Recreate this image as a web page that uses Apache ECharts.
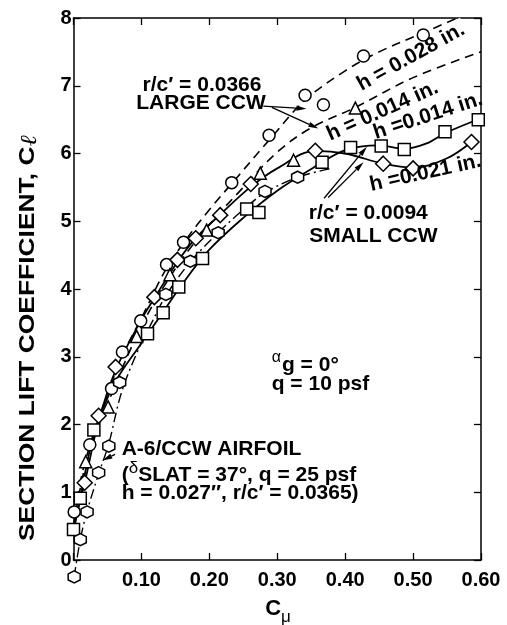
<!DOCTYPE html>
<html><head><meta charset="utf-8">
<script src="https://cdn.jsdelivr.net/npm/echarts@6/dist/echarts.min.js"></script>
<style>html,body{margin:0;padding:0;background:#fff}#c{width:507px;height:625px}</style>
</head><body><div id="c"></div>
<script>
// ---------- data ----------
const xTickLabels = ['', '0.10', '0.20', '0.30', '0.40', '0.50', '0.60'];
const yTickLabels = ['0', '1', '2', '3', '4', '5', '6', '7', '8'];

// LARGE CCW, r/c' = 0.0366, h = 0.028 in. (circles, dashed)
const largeH028Pts = [[0.001,0.71],[0.024,1.70],[0.056,2.53],[0.072,3.07],[0.099,3.53],[0.137,4.36],[0.162,4.69],[0.233,5.57],[0.288,6.27],[0.341,6.86],[0.368,6.72],[0.427,7.44],[0.515,7.75]];
const largeH028Curve = [[0,0.45],[0.01,1.15],[0.025,1.72],[0.05,2.45],[0.075,3.08],[0.1,3.57],[0.135,4.27],[0.165,4.72],[0.2,5.17],[0.235,5.58],[0.29,6.22],[0.34,6.78],[0.4,7.22],[0.45,7.5],[0.51,7.76],[0.565,8.0]];

// LARGE CCW, h = 0.014 in. (triangles, dashed)
const largeH014Pts = [[0.018,1.45],[0.051,2.26],[0.093,3.30],[0.142,4.21],[0.196,4.87],[0.275,5.71],[0.324,5.90],[0.415,6.67]];
const largeH014Curve = [[0,0.5],[0.02,1.5],[0.05,2.3],[0.1,3.45],[0.15,4.3],[0.2,4.95],[0.25,5.5],[0.3,6.02],[0.35,6.38],[0.415,6.68],[0.5,7.12],[0.6,7.5]];

// SMALL CCW, r/c' = 0.0094, h = 0.014 in. (squares, solid)
const smallH014Pts = [[0,0.45],[0.010,0.91],[0.030,1.92],[0.109,3.34],[0.132,3.65],[0.155,4.03],[0.190,4.45],[0.255,5.18],[0.273,5.13],[0.366,5.87],[0.408,6.09],[0.453,6.11],[0.487,6.06],[0.547,6.32],[0.596,6.50]];
const smallH014Curve = [[0,0.4],[0.01,0.92],[0.03,1.85],[0.06,2.6],[0.1,3.2],[0.13,3.63],[0.16,4.07],[0.2,4.58],[0.25,5.05],[0.3,5.45],[0.35,5.77],[0.4,6.05],[0.45,6.12],[0.487,6.07],[0.52,6.15],[0.547,6.3],[0.6,6.52]];

// SMALL CCW, h = 0.021 in. (diamonds, solid)
const smallH021Pts = [[0.0165,1.14],[0.037,2.13],[0.062,2.85],[0.119,3.88],[0.153,4.43],[0.180,4.75],[0.216,5.09],[0.261,5.55],[0.356,6.04],[0.456,5.85],[0.500,5.78],[0.586,6.17]];
const smallH021Curve = [[0,0.5],[0.0165,1.14],[0.037,2.05],[0.062,2.8],[0.1,3.55],[0.12,3.88],[0.153,4.4],[0.18,4.75],[0.216,5.1],[0.26,5.5],[0.3,5.78],[0.356,6.04],[0.4,6.0],[0.456,5.85],[0.5,5.79],[0.55,5.93],[0.586,6.17]];

// A-6/CCW AIRFOIL (hexagons, dash-dot)
const a6Pts = [[0.001,-0.25],[0.010,0.30],[0.020,0.71],[0.037,1.29],[0.052,1.68],[0.068,2.62],[0.136,3.92],[0.172,4.41],[0.213,4.83],[0.282,5.44],[0.330,5.65]];
const a6Curve = [[0.001,-0.25],[0.01,0.3],[0.02,0.72],[0.037,1.27],[0.052,1.72],[0.07,2.45],[0.093,3.05],[0.115,3.5],[0.136,3.9],[0.172,4.4],[0.213,4.83],[0.25,5.17],[0.282,5.42],[0.33,5.65],[0.38,5.78]];

// ---------- chart ----------
const FONT = '"Liberation Sans", Arial, Helvetica, sans-serif';
const chart = echarts.init(document.getElementById('c'), null, {renderer: 'canvas'});
const hexPath = 'path://M0,-10 L8.66,-5 L8.66,5 L0,10 L-8.66,5 L-8.66,-5 Z';

function curve(data, type, width) {
  return {type: 'line', data: data, smooth: 0.35, symbol: 'none', clip: false, silent: true,
    lineStyle: {color: '#000', width: width, type: type}, z: 2};
}
function pts(data, symbol, size) {
  return {type: 'scatter', data: data, symbol: symbol, symbolSize: size, clip: false, silent: true,
    itemStyle: {color: '#fff', borderColor: '#000', borderWidth: 1.5, opacity: 1}, z: 5};
}
const axisBase = {
  type: 'value', axisLine: {show: true, onZero: false, lineStyle: {color: '#000', width: 1.5}},
  axisTick: {show: true, inside: true, length: 7, lineStyle: {color: '#000', width: 1.3}},
  splitLine: {show: false}
};
const labelStyle = {color: '#000', fontSize: 20, fontWeight: 'bold', fontFamily: FONT};

chart.setOption({
  animation: false,
  backgroundColor: '#fff',
  grid: {left: 73.5, right: 26, top: 18, bottom: 65},
  xAxis: [
    Object.assign({}, axisBase, {position: 'bottom', min: 0, max: 0.6, interval: 0.1,
      axisLabel: Object.assign({margin: 10, formatter: (v, i) => xTickLabels[Math.round(v * 10)]}, labelStyle)}),
    Object.assign({}, axisBase, {position: 'top', min: 0, max: 0.6, interval: 0.1, axisLabel: {show: false}})
  ],
  yAxis: [
    Object.assign({}, axisBase, {position: 'left', min: 0, max: 8, interval: 1,
      axisLabel: Object.assign({margin: 2, formatter: (v) => yTickLabels[Math.round(v)]}, labelStyle)}),
    Object.assign({}, axisBase, {position: 'right', min: 0, max: 8, interval: 1, axisLabel: {show: false}})
  ],
  series: [
    curve(largeH028Curve, [9, 6], 1.6),
    curve(largeH014Curve, [9, 6], 1.6),
    curve(smallH014Curve, 'solid', 1.8),
    curve(smallH021Curve, 'solid', 1.8),
    curve(a6Curve, [10, 4, 2, 4], 1.4),
    pts(largeH028Pts, 'circle', 12),
    pts(largeH014Pts, 'triangle', 12),
    pts(smallH014Pts, 'rect', 12),
    pts(smallH021Pts, 'diamond', 15),
    pts(a6Pts, hexPath, 12)
  ]
});

// ---------- annotations ----------
const toPx = (p) => chart.convertToPixel({xAxisIndex: 0, yAxisIndex: 0}, p);
function arrow(a, b) {
  const p0 = toPx(a), p1 = toPx(b);
  const ang = Math.atan2(p1[1] - p0[1], p1[0] - p0[0]);
  const L = 10, W = 2.6;
  const bx = p1[0] - L * Math.cos(ang), by = p1[1] - L * Math.sin(ang);
  return [
    {type: 'line', shape: {x1: p0[0], y1: p0[1], x2: bx, y2: by}, style: {stroke: '#000', lineWidth: 1.3}, z: 10},
    {type: 'polygon', shape: {points: [[p1[0], p1[1]], [bx - W * Math.sin(ang), by + W * Math.cos(ang)], [bx + W * Math.sin(ang), by - W * Math.cos(ang)]]},
      style: {fill: '#000'}, z: 10}
  ];
}
function txt(x, y, text, opts) {
  opts = opts || {};
  return {type: 'text', x: x, y: y, rotation: opts.rot || 0, z: opts.z || 20,
    style: Object.assign({text: text, fill: '#000', fontSize: opts.size || 21, fontWeight: 'bold', fontFamily: FONT,
      align: opts.align || 'center', verticalAlign: 'middle', textAlign: opts.align || 'center', textVerticalAlign: 'middle'}, opts.style || {})};
}
const deg = Math.PI / 180;
const bgStyle = {backgroundColor: '#fff', padding: [0, 2, 0, 2]};
const g = [];
g.push(txt(202, 85, "r/c\u2032 = 0.0366"));
g.push(txt(201, 103.5, 'LARGE CCW'));
g.push(...arrow([0.2795, 6.70], [0.343, 6.66]));
g.push(...arrow([0.292, 6.68], [0.3605, 6.37]));
g.push(txt(411, 57, 'h = 0.028 in.', {rot: 29 * deg, style: bgStyle, z: 3}));
g.push(txt(382.5, 111, 'h = 0.014 in.', {rot: 24 * deg, style: bgStyle, z: 3}));
g.push(txt(428, 116, 'h =0.014 in.', {rot: 18 * deg}));
g.push(txt(425.5, 173, 'h =0.021 in.', {rot: 12.5 * deg}));
g.push(txt(368.3, 213.3, "r/c\u2032 = 0.0094"));
g.push(txt(373.3, 236.7, 'SMALL CCW'));
g.push(...arrow([0.369, 5.34], [0.432, 6.10]));
g.push(...arrow([0.375, 5.35], [0.427, 5.87]));
// alpha_g and q
g.push({type: 'text', x: 271.7, y: 363, z: 20, style: {
  text: '{a|\u03b1}{b|g = 0\u00b0}', align: 'left', verticalAlign: 'middle', textAlign: 'left', textVerticalAlign: 'middle',
  rich: {a: {fontSize: 16, fontFamily: FONT, fill: '#000', verticalAlign: 'top', lineHeight: 26, padding: [0, 1, 0, 0]},
         b: {fontSize: 21, fontWeight: 'bold', fontFamily: FONT, fill: '#000', verticalAlign: 'bottom', lineHeight: 26}}}});
g.push(txt(271.7, 384, 'q = 10 psf', {align: 'left'}));
// A-6 airfoil note
g.push(txt(121.7, 449.3, 'A-6/CCW AIRFOIL', {align: 'left'}));
g.push({type: 'text', x: 121.7, y: 472.7, z: 20, style: {
  text: '{n|(}{d|\u03b4}{n|SLAT = 37\u00b0, q = 25 psf}', align: 'left', verticalAlign: 'middle', textAlign: 'left', textVerticalAlign: 'middle',
  rich: {n: {fontSize: 21, fontWeight: 'bold', fontFamily: FONT, fill: '#000', verticalAlign: 'bottom', lineHeight: 26},
         d: {fontSize: 17, fontFamily: FONT, fill: '#000', verticalAlign: 'top', lineHeight: 26}}}});
g.push(txt(121.7, 493.3, "h = 0.027\u2033, r/c\u2032 = 0.0365)", {align: 'left'}));
g.push(...arrow([0.0612, 1.56], [0.0425, 1.47]));
// axis titles
g.push({type: 'text', x: 28, y: 338, rotation: Math.PI / 2, scaleX: 1.2, z: 20, style: {
  text: 'SECTION LIFT COEFFICIENT, C{l|\u2113}', align: 'center', verticalAlign: 'middle', textAlign: 'center', textVerticalAlign: 'middle',
  fontSize: 22, fontWeight: 'bold', fontFamily: FONT, fill: '#000',
  rich: {l: {fontSize: 23, fontStyle: 'italic', fontFamily: '"DejaVu Serif", serif', fill: '#000', verticalAlign: 'bottom', lineHeight: 28}}}});
g.push({type: 'text', x: 278, y: 612, z: 20, style: {
  text: '{c|C}{m|\u03bc}', align: 'center', verticalAlign: 'middle', textAlign: 'center', textVerticalAlign: 'middle',
  rich: {c: {fontSize: 22, fontWeight: 'bold', fontFamily: FONT, fill: '#000', verticalAlign: 'top', lineHeight: 28},
         m: {fontSize: 17, fontFamily: FONT, fill: '#000', verticalAlign: 'bottom', lineHeight: 28}}}});
chart.setOption({graphic: {elements: g}});
</script>
</body></html>
